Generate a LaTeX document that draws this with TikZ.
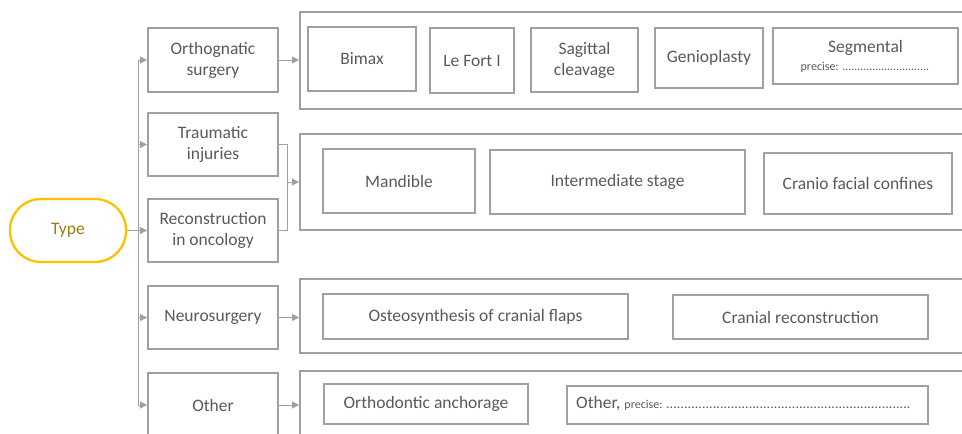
\documentclass[tikz,border=0pt]{standalone}
\usepackage{fontspec}
\setmainfont{Carlito}
\usetikzlibrary{arrows.meta}
\definecolor{boxline}{HTML}{A0A0A0}
\definecolor{txt}{HTML}{595959}
\definecolor{gold}{HTML}{FFC000}
\definecolor{goldtxt}{HTML}{9A7A14}
\newcommand{\dotrun}[2]{\hbox to #1{\leaders\hbox to #2{\hss.\hss}\hfill}}
\tikzset{
  box/.style={draw=boxline, line width=1.9pt, inner sep=0pt, text=txt, align=center,
    font=\fontsize{17.5}{21}\selectfont},
  cont/.style={draw=boxline, line width=1.9pt, inner sep=0pt, anchor=north west, minimum width=720pt},
  conn/.style={draw=boxline, line width=1pt},
  arr/.style={conn, -{Triangle[length=7pt,width=7pt]}}
}
\begin{document}
\begin{tikzpicture}[x=1pt,y=-1pt]
\useasboundingbox (0,0) rectangle (962,434);
\clip (0,0) rectangle (962,434);
% root
\node[draw=gold, line width=2.3pt, rounded corners=31pt, minimum width=116pt, minimum height=63pt,
  inner sep=0pt, text=goldtxt, font=\fontsize{17.5}{21}\selectfont] (type) at (68,230.5) {Type};
% left column
\node[box, minimum width=130pt, minimum height=64pt] (ortho) at (213,60) {Orthognatic\\surgery};
\node[box, minimum width=130pt, minimum height=63pt] (trauma) at (213,144.5) {Traumatic\\injuries};
\node[box, minimum width=130pt, minimum height=63pt] (recon) at (213,230.5) {Reconstruction\\in oncology};
\node[box, minimum width=130pt, minimum height=63pt] (neuro) at (213,317.5) {Neurosurgery};
\node[box, minimum width=130pt, minimum height=64pt] (other) at (213,405) {Other};
% containers
\node[cont, minimum height=97pt] (c1) at (299,11) {};
\node[cont, minimum height=96pt] (c2) at (299,133) {};
\node[cont, minimum height=74pt] (c3) at (299,278) {};
\node[cont, minimum height=80pt] (c4) at (299,370) {};
% row 1
\node[box, minimum width=108pt, minimum height=64pt] (bimax) at (362,59) {Bimax};
\node[box, minimum width=84pt, minimum height=65pt] (lefort) at (472,60.5) {Le Fort I};
\node[box, minimum width=107pt, minimum height=64pt] (sagittal) at (584.5,60) {Sagittal\\cleavage};
\node[box, minimum width=108pt, minimum height=60pt] (genio) at (709,58) {Genioplasty};
\node[box, minimum width=185pt, minimum height=56pt] (segm) at (865.5,56)
  {Segmental\\[-3pt]{\fontsize{12}{14}\selectfont precise: \dotrun{88pt}{3pt}}};
% row 2
\node[box, minimum width=152pt, minimum height=64pt] (mandible) at (399,181) {Mandible};
\node[box, minimum width=255pt, minimum height=64pt] (interm) at (617.5,182) {Intermediate stage};
\node[box, minimum width=188pt, minimum height=61pt] (cranio) at (858,183.5) {Cranio facial confines};
% row 3
\node[box, minimum width=305pt, minimum height=45pt] (osteo) at (475.5,316.5) {Osteosynthesis of cranial flaps};
\node[box, minimum width=255pt, minimum height=44pt] (cranial) at (800.5,317) {Cranial reconstruction};
% row 4
\node[box, minimum width=204pt, minimum height=40pt] (orthod) at (426,404) {Orthodontic anchorage};
\node[box, minimum width=361pt, minimum height=38pt] (otherp) at (747.5,405) {};
\node[anchor=west, inner sep=0pt, text=txt, font=\fontsize{17.5}{21}\selectfont] (otherpt) at (576,404)
  {Other, {\fontsize{12}{14}\selectfont precise: {\fontsize{14}{14}\selectfont\dotrun{248pt}{3.6pt}}}};
% trunk
\coordinate (trtop) at (138,60);
\coordinate (trbot) at (138,405);
\draw[conn] (trtop) -- (trbot);
\draw[arr] (type.east) -- (recon.west);
\draw[arr] (trtop) -- (ortho.west);
\draw[arr] (trtop |- trauma.west) -- (trauma.west);
\draw[arr] (trtop |- neuro.west) -- (neuro.west);
\draw[arr] (trbot) -- (other.west);
% to containers
\draw[arr] (ortho.east) -- (c1.west |- ortho.east);
\coordinate (brk) at (287,182);
\draw[conn] (trauma.east) -- (brk |- trauma.east) -- (brk |- recon.east) -- (recon.east);
\draw[arr] (brk) -- (c2.west |- brk);
\draw[arr] (neuro.east) -- (c3.west |- neuro.east);
\draw[arr] (other.east) -- (c4.west |- other.east);
\end{tikzpicture}
\end{document}
